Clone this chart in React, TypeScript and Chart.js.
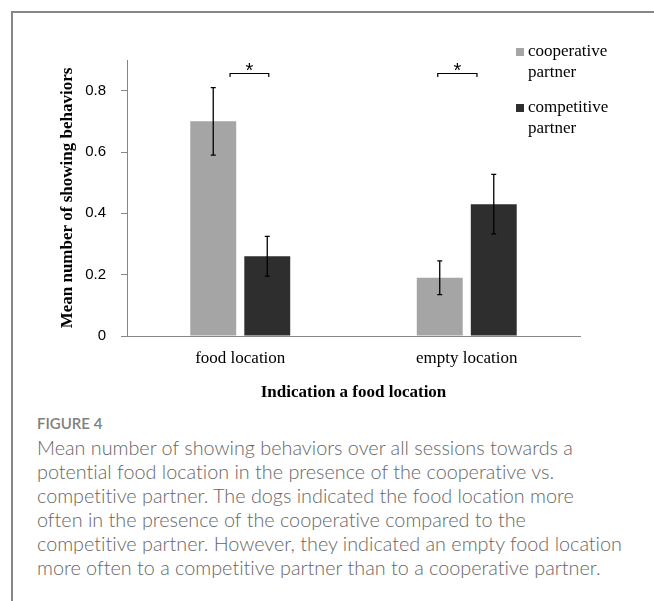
import React, { useEffect, useRef } from 'react';
import { Chart, registerables } from 'chart.js';
Chart.register(...registerables);

const categories = ['food location', 'empty location'];
const seriesNames = [['cooperative', 'partner'], ['competitive', 'partner']];
const cooperative = [0.70, 0.19];
const competitive = [0.26, 0.43];
const cooperativeLow = [0.59, 0.135];
const cooperativeHigh = [0.81, 0.245];
const competitiveLow = [0.195, 0.333];
const competitiveHigh = [0.325, 0.527];
const yTicks = [0, 0.2, 0.4, 0.6, 0.8];
const yMax = 0.9;
const seriesColors = ['#a5a5a5', '#2e2e2e'];

const captionTitle = 'FIGURE 4';
const captionLines = [
  'Mean number of showing behaviors over all sessions towards a',
  'potential food location in the presence of the cooperative vs.',
  'competitive partner. The dogs indicated the food location more',
  'often in the presence of the cooperative compared to the',
  'competitive partner. However, they indicated an empty food location',
  'more often to a competitive partner than to a cooperative partner.',
];

// significance brackets (category index, span in category units, height in data units)
const brackets = [
  { cat: 0, from: -0.045, to: 0.126, level: 0.857 },
  { cat: 1, from: -0.128, to: 0.045, level: 0.857 },
];

const SERIF = '"Liberation Serif", "Times New Roman", serif';
const SANS = '"Liberation Sans", Arial, sans-serif';
const AXIS_GRAY = '#868686';

const errorBarsPlugin = {
  id: 'errorBars',
  afterDatasetsDraw(chart: any) {
    const ctx = chart.ctx;
    const ys = chart.scales.y;
    chart.data.datasets.forEach((ds: any, i: number) => {
      const meta = chart.getDatasetMeta(i);
      meta.data.forEach((el: any, j: number) => {
        const x = el.x;
        const yl = ys.getPixelForValue(ds.errLow[j]);
        const yh = ys.getPixelForValue(ds.errHigh[j]);
        ctx.save();
        ctx.strokeStyle = '#000';
        ctx.lineWidth = 1.3;
        ctx.beginPath();
        ctx.moveTo(x, yl);
        ctx.lineTo(x, yh);
        ctx.moveTo(x - 2.5, yl);
        ctx.lineTo(x + 2.5, yl);
        ctx.moveTo(x - 2.5, yh);
        ctx.lineTo(x + 2.5, yh);
        ctx.stroke();
        ctx.restore();
      });
    });
  },
};

const annotationsPlugin = {
  id: 'annotations',
  afterDraw(chart: any) {
    const ctx = chart.ctx;
    const xs = chart.scales.x;
    const ys = chart.scales.y;
    const area = chart.chartArea;
    const catW = (area.right - area.left) / categories.length;
    ctx.save();
    brackets.forEach((b) => {
      const c = xs.getPixelForValue(b.cat);
      const x1 = c + b.from * catW;
      const x2 = c + b.to * catW;
      const y = Math.round(ys.getPixelForValue(b.level)) + 0.5;
      ctx.strokeStyle = '#000';
      ctx.lineWidth = 1.2;
      ctx.beginPath();
      ctx.moveTo(x1, y + 3.5);
      ctx.lineTo(x1, y);
      ctx.lineTo(x2, y);
      ctx.lineTo(x2, y + 3.5);
      ctx.stroke();
      ctx.fillStyle = '#000';
      ctx.font = `20px ${SANS}`;
      ctx.textAlign = 'center';
      ctx.textBaseline = 'alphabetic';
      ctx.fillText('*', (x1 + x2) / 2, y + 3);
    });
    // legend
    const lx = area.right - 64;
    const tops = [42, 98];
    seriesNames.forEach((lines, i) => {
      const t = tops[i];
      ctx.fillStyle = seriesColors[i];
      ctx.fillRect(lx, t + 6, 8, 8);
      ctx.fillStyle = '#000';
      ctx.font = `17px ${SERIF}`;
      ctx.textAlign = 'left';
      ctx.textBaseline = 'alphabetic';
      lines.forEach((ln, k) => {
        ctx.fillText(ln, lx + 12, t + 14 + k * 21);
      });
    });
    ctx.restore();
  },
};

export default function App() {
  const ref = useRef<HTMLCanvasElement | null>(null);
  useEffect(() => {
    if (!ref.current) return;
    const chart = new Chart(ref.current, {
      type: 'bar',
      data: {
        labels: categories,
        datasets: [
          {
            label: seriesNames[0].join(' '),
            data: cooperative,
            backgroundColor: seriesColors[0],
            errLow: cooperativeLow,
            errHigh: cooperativeHigh,
            categoryPercentage: 0.477,
            barPercentage: 0.85,
          } as any,
          {
            label: seriesNames[1].join(' '),
            data: competitive,
            backgroundColor: seriesColors[1],
            errLow: competitiveLow,
            errHigh: competitiveHigh,
            categoryPercentage: 0.477,
            barPercentage: 0.85,
          } as any,
        ],
      },
      options: {
        responsive: false,
        animation: false,
        devicePixelRatio: 1,
        layout: { padding: { top: 60, right: 74, left: 48, bottom: 0 } },
        plugins: { legend: { display: false }, tooltip: { enabled: false } },
        scales: {
          x: {
            grid: { display: false },
            border: { display: true, color: AXIS_GRAY, width: 1 },
            ticks: { font: { family: SERIF, size: 17 }, color: '#000', padding: 4 },
            title: {
              display: true,
              text: 'Indication a food location',
              font: { family: SERIF, size: 17, weight: 'bold' },
              color: '#000',
              padding: { top: 0, bottom: 7 },
            },
            afterFit: (s: any) => { s.height = 74; },
          },
          y: {
            min: 0,
            max: yMax,
            afterBuildTicks: (s: any) => { s.ticks = yTicks.map((v) => ({ value: v })); },
            ticks: {
              font: { family: SANS, size: 15 },
              color: '#000',
              padding: 15,
              callback: (v: any) => String(Number(v)),
            },
            grid: { drawOnChartArea: false, drawTicks: true, tickLength: 6, color: AXIS_GRAY },
            border: { display: true, color: AXIS_GRAY, width: 1 },
            title: {
              display: true,
              text: 'Mean number of showing behaviors',
              font: { family: SERIF, size: 17, weight: 'bold' },
              color: '#000',
              padding: { top: 9, bottom: 0 },
            },
            afterFit: (s: any) => { s.width = 79; },
          },
        },
      },
      plugins: [errorBarsPlugin, annotationsPlugin],
    } as any);
    return () => chart.destroy();
  }, []);

  return (
    <div style={{ position: 'absolute', left: 0, top: 0, width: 654, height: 601, overflow: 'hidden', background: '#fff' }}>
      <div style={{ position: 'absolute', left: 11, top: 11, width: 660, height: 620, borderTop: `2px solid ${AXIS_GRAY}`, borderLeft: `2px solid ${AXIS_GRAY}` }} />
      <canvas ref={ref} width={654} height={410} style={{ position: 'absolute', left: 0, top: 0, width: 654, height: 410 }} />
      <div style={{ position: 'absolute', left: 37, top: 413, color: '#666666', fontFamily: 'Lato, "Open Sans", sans-serif', whiteSpace: 'nowrap', fontVariantLigatures: 'none' }}>
        <div style={{ fontSize: 15, lineHeight: '20px', color: '#808080', fontWeight: 600 }}>{captionTitle}</div>
        <div style={{ fontSize: 19.8, lineHeight: '24px', marginTop: 2, fontWeight: 300 }}>
          {captionLines.map((l, i) => (<div key={i}>{l}</div>))}
        </div>
      </div>
    </div>
  );
}
